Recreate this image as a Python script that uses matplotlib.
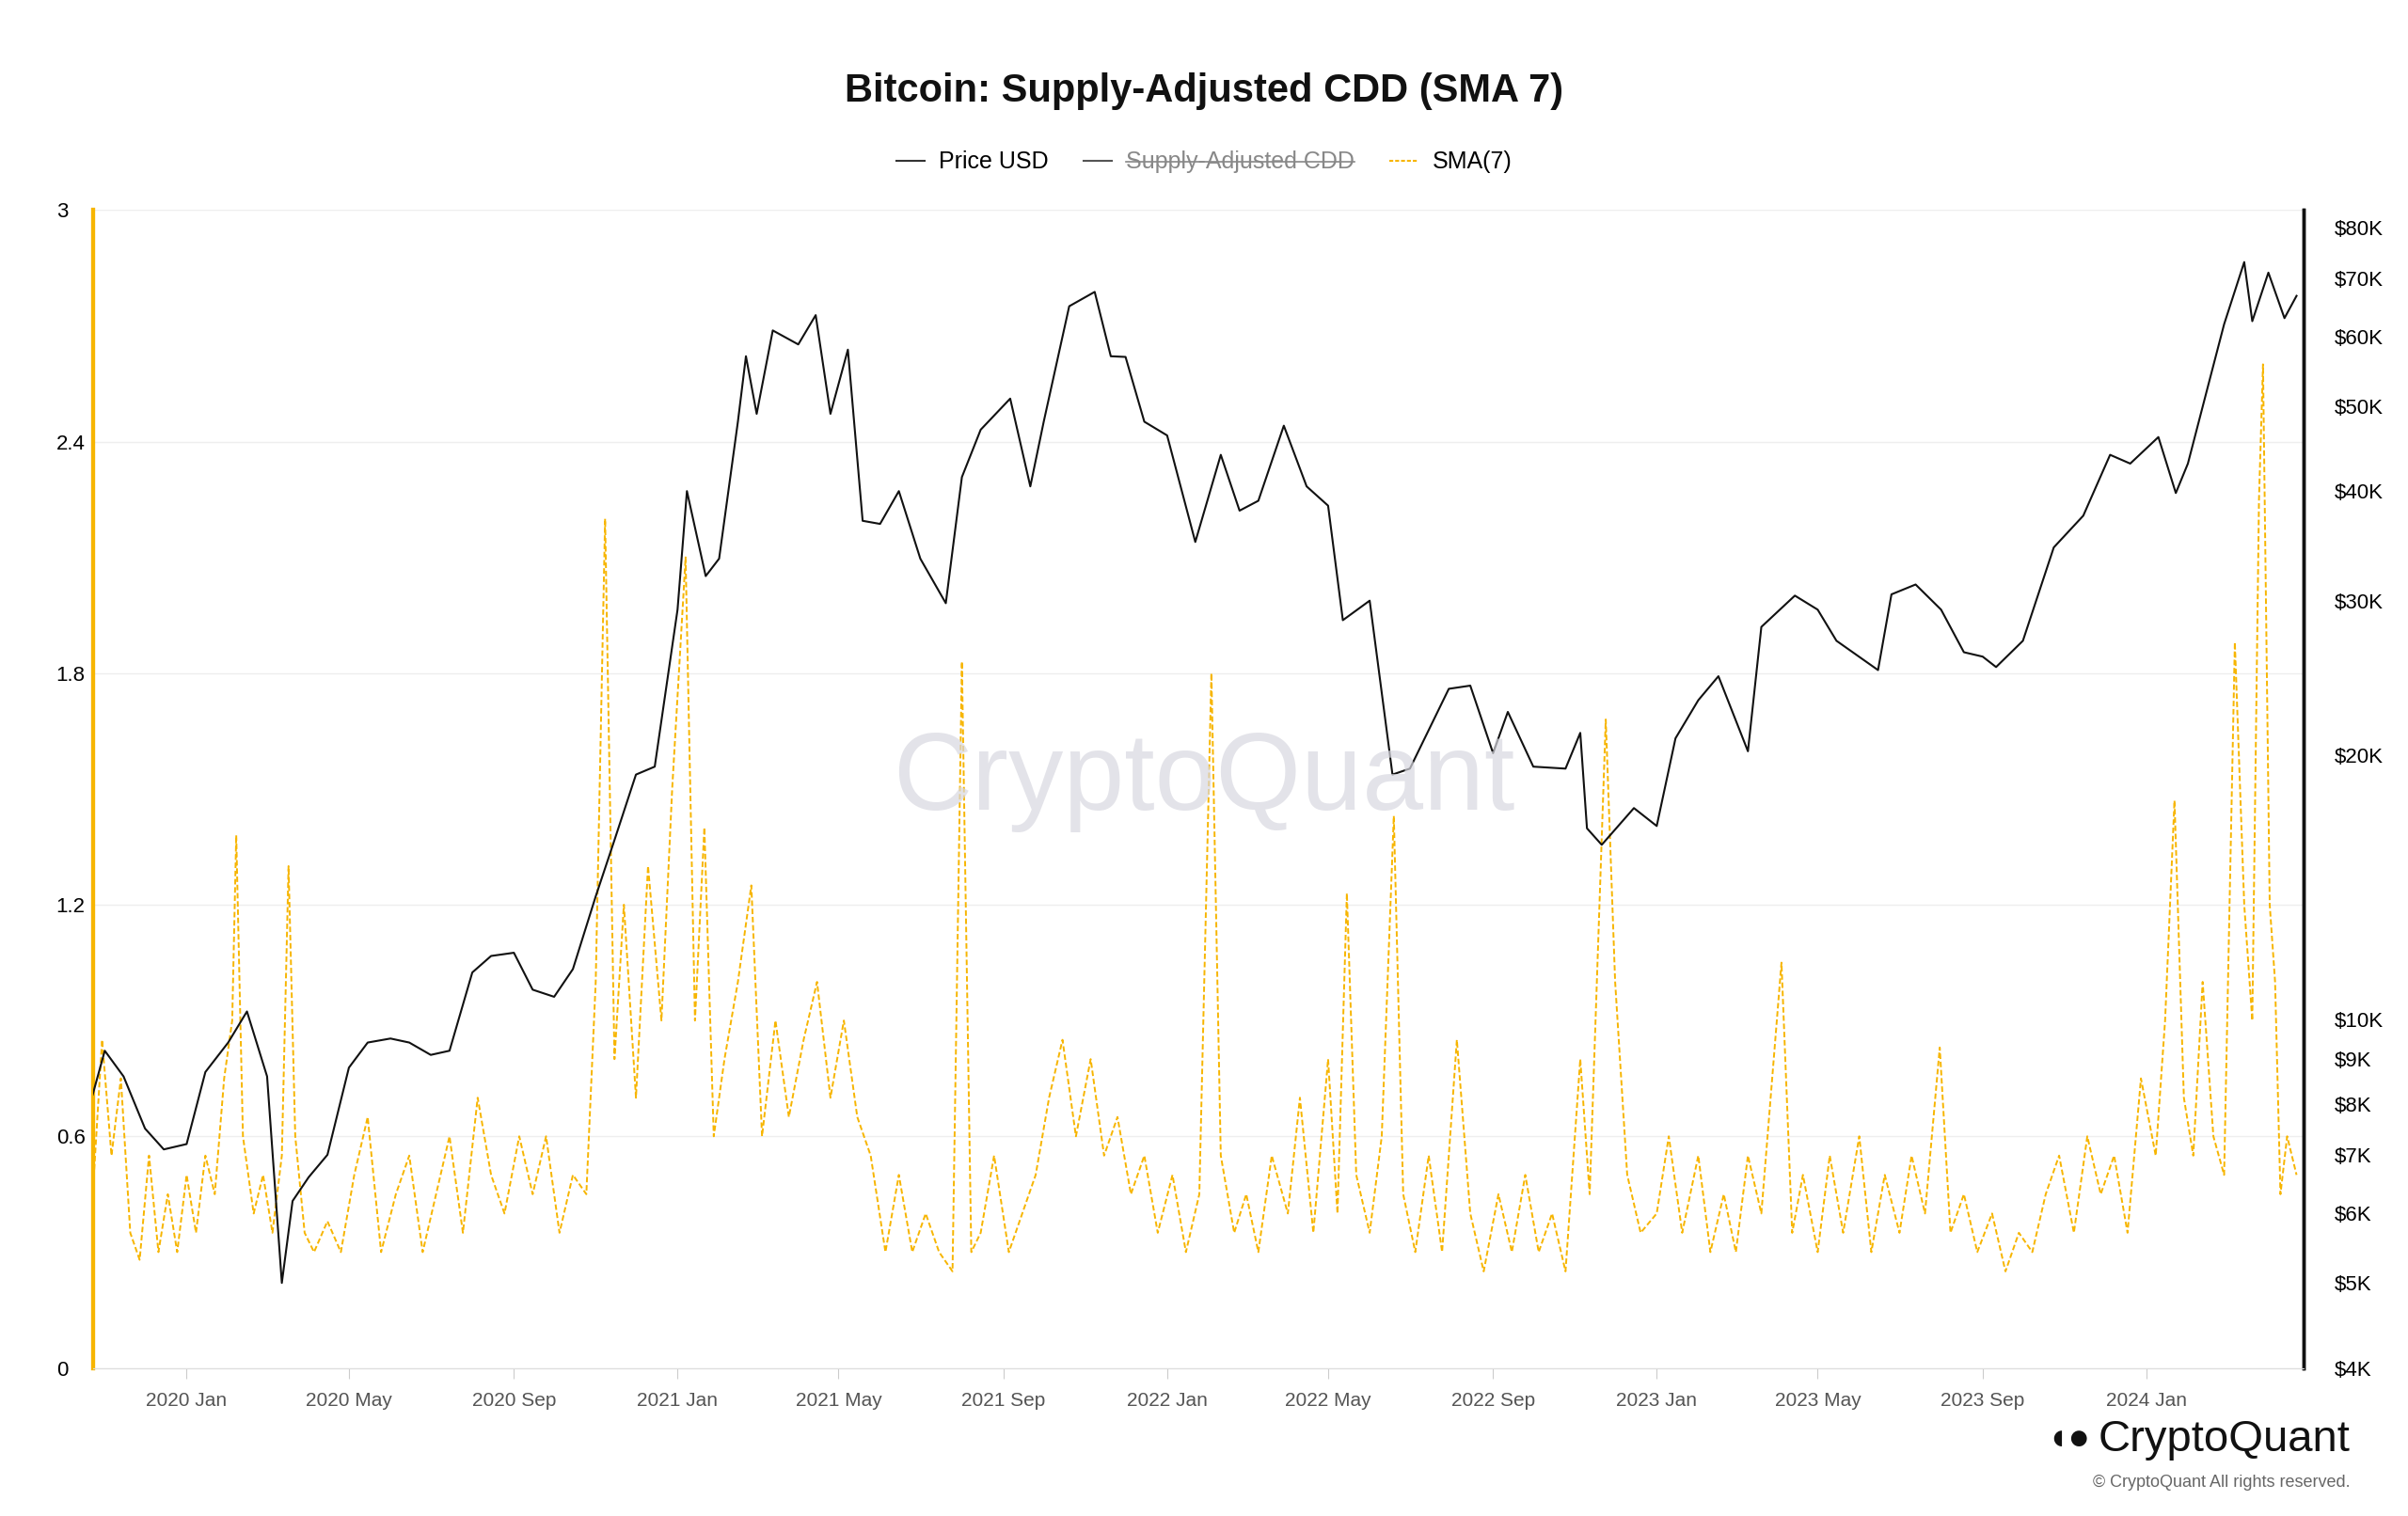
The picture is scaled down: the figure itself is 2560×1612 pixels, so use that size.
import matplotlib
matplotlib.use("Agg")
import matplotlib.pyplot as plt
import matplotlib.dates as mdates
import pandas as pd
from matplotlib.lines import Line2D

plt.rcParams["font.family"] = "Liberation Sans"

price_dates = ["2019-10-23","2019-11-01","2019-11-15","2019-12-01","2019-12-15","2020-01-01","2020-01-15","2020-02-01","2020-02-15",
"2020-03-01","2020-03-12","2020-03-20","2020-04-01","2020-04-15","2020-05-01","2020-05-15","2020-06-01","2020-06-15","2020-07-01",
"2020-07-15","2020-08-01","2020-08-15","2020-09-01","2020-09-15","2020-10-01","2020-10-15","2020-11-01","2020-11-15","2020-12-01",
"2020-12-15","2021-01-01","2021-01-08","2021-01-22","2021-02-01","2021-02-15","2021-02-21","2021-03-01","2021-03-13","2021-04-01",
"2021-04-14","2021-04-25","2021-05-08","2021-05-19","2021-06-01","2021-06-15","2021-07-01","2021-07-20","2021-08-01","2021-08-15",
"2021-09-06","2021-09-21","2021-10-01","2021-10-20","2021-11-08","2021-11-20","2021-12-01","2021-12-15","2022-01-01","2022-01-22",
"2022-02-10","2022-02-24","2022-03-10","2022-03-29","2022-04-15","2022-05-01","2022-05-12","2022-06-01","2022-06-18","2022-07-01",
"2022-07-30","2022-08-15","2022-09-01","2022-09-12","2022-10-01","2022-10-25","2022-11-05","2022-11-10","2022-11-21","2022-12-15",
"2023-01-01","2023-01-15","2023-02-01","2023-02-16","2023-03-10","2023-03-20","2023-04-14","2023-05-01","2023-05-15","2023-06-15",
"2023-06-25","2023-07-13","2023-08-01","2023-08-18","2023-09-01","2023-09-11","2023-10-01","2023-10-24","2023-11-15","2023-12-05",
"2023-12-20","2024-01-10","2024-01-23","2024-02-01","2024-02-15","2024-02-28","2024-03-14","2024-03-20","2024-04-01","2024-04-13","2024-04-22"]
price_vals = [8200,9200,8600,7500,7100,7200,8700,9400,10200,8600,5000,6200,6600,7000,8800,9400,9500,9400,9100,9200,11300,11800,11900,10800,10600,11400,13800,16000,19000,
19400,29300,40000,32000,33500,48000,57000,49000,61000,58800,63500,49000,58000,37000,36700,40000,33500,29800,41500,47000,51000,40500,48000,65000,67500,57000,56900,48000,
46300,35000,44000,38000,39000,47500,40500,38500,28500,30000,19000,19300,23800,24000,20100,22400,19400,19300,21200,16500,15800,17400,16600,20900,23100,24600,20200,28000,
30400,29300,27000,25000,30500,31300,29300,26200,25900,25200,27000,34500,37500,44000,43000,46100,39800,43000,52000,62000,73000,62500,71000,63000,66800]

sma_dates = ["2019-10-23","2019-10-30","2019-11-06","2019-11-13","2019-11-20","2019-11-27","2019-12-04","2019-12-11","2019-12-18","2019-12-25",
"2020-01-01","2020-01-08","2020-01-15","2020-01-22","2020-01-29","2020-02-04","2020-02-07","2020-02-12","2020-02-20","2020-02-27","2020-03-05",
"2020-03-12","2020-03-17","2020-03-22","2020-03-29","2020-04-05","2020-04-15","2020-04-25","2020-05-05","2020-05-15","2020-05-25","2020-06-05",
"2020-06-15","2020-06-25","2020-07-05","2020-07-15","2020-07-25","2020-08-05","2020-08-15","2020-08-25","2020-09-05","2020-09-15","2020-09-25",
"2020-10-05","2020-10-15","2020-10-25","2020-11-01","2020-11-08","2020-11-15","2020-11-22","2020-12-01","2020-12-10","2020-12-20","2020-12-28",
"2021-01-07","2021-01-14","2021-01-21","2021-01-28","2021-02-05","2021-02-15","2021-02-25","2021-03-05","2021-03-15","2021-03-25","2021-04-05",
"2021-04-15","2021-04-25","2021-05-05","2021-05-15","2021-05-25","2021-06-05","2021-06-15","2021-06-25","2021-07-05","2021-07-15","2021-07-25",
"2021-08-01","2021-08-08","2021-08-15","2021-08-25","2021-09-05","2021-09-15","2021-09-25","2021-10-05","2021-10-15","2021-10-25","2021-11-05",
"2021-11-15","2021-11-25","2021-12-05","2021-12-15","2021-12-25","2022-01-05","2022-01-15","2022-01-25","2022-02-03","2022-02-10","2022-02-20",
"2022-03-01","2022-03-10","2022-03-20","2022-04-01","2022-04-10","2022-04-20","2022-05-01","2022-05-08","2022-05-15","2022-05-22","2022-06-01",
"2022-06-10","2022-06-19","2022-06-26","2022-07-05","2022-07-15","2022-07-25","2022-08-05","2022-08-15","2022-08-25","2022-09-05","2022-09-15",
"2022-09-25","2022-10-05","2022-10-15","2022-10-25","2022-11-05","2022-11-12","2022-11-24","2022-12-01","2022-12-10","2022-12-20","2023-01-01",
"2023-01-10","2023-01-20","2023-02-01","2023-02-10","2023-02-20","2023-03-01","2023-03-10","2023-03-20","2023-04-04","2023-04-12","2023-04-20",
"2023-05-01","2023-05-10","2023-05-20","2023-06-01","2023-06-10","2023-06-20","2023-07-01","2023-07-10","2023-07-20","2023-07-31","2023-08-08",
"2023-08-18","2023-08-28","2023-09-08","2023-09-18","2023-09-28","2023-10-08","2023-10-18","2023-10-28","2023-11-08","2023-11-18","2023-11-28",
"2023-12-08","2023-12-18","2023-12-28","2024-01-08","2024-01-15","2024-01-22","2024-01-29","2024-02-05","2024-02-12","2024-02-20","2024-02-28",
"2024-03-07","2024-03-14","2024-03-20","2024-03-25","2024-03-28","2024-04-02","2024-04-06","2024-04-10","2024-04-15","2024-04-22"]
sma_vals = [0.45,0.85,0.55,0.75,0.35,0.28,0.55,0.3,0.45,0.3,
0.5,0.35,0.55,0.45,0.75,0.9,1.38,0.6,0.4,0.5,0.35,
0.55,1.3,0.6,0.35,0.3,0.38,0.3,0.5,0.65,0.3,0.45,
0.55,0.3,0.45,0.6,0.35,0.7,0.5,0.4,0.6,0.45,0.6,
0.35,0.5,0.45,1.0,2.2,0.8,1.2,0.7,1.3,0.9,1.5,
2.1,0.9,1.4,0.6,0.8,1.0,1.25,0.6,0.9,0.65,0.85,
1.0,0.7,0.9,0.65,0.55,0.3,0.5,0.3,0.4,0.3,0.25,
1.83,0.3,0.35,0.55,0.3,0.4,0.5,0.7,0.85,0.6,0.8,
0.55,0.65,0.45,0.55,0.35,0.5,0.3,0.45,1.8,0.55,0.35,
0.45,0.3,0.55,0.4,0.7,0.35,0.8,0.4,1.23,0.5,0.35,
0.6,1.43,0.45,0.3,0.55,0.3,0.85,0.4,0.25,0.45,0.3,
0.5,0.3,0.4,0.25,0.8,0.45,1.68,1.0,0.5,0.35,0.4,
0.6,0.35,0.55,0.3,0.45,0.3,0.55,0.4,1.05,0.35,0.5,
0.3,0.55,0.35,0.6,0.3,0.5,0.35,0.55,0.4,0.83,0.35,
0.45,0.3,0.4,0.25,0.35,0.3,0.45,0.55,0.35,0.6,0.45,
0.55,0.35,0.75,0.55,0.9,1.47,0.7,0.55,1.0,0.6,0.5,
1.88,1.2,0.9,2.25,2.6,1.2,1.0,0.45,0.6,0.5]

pd_ = pd.to_datetime(price_dates)
sd_ = pd.to_datetime(sma_dates)

fig = plt.figure(figsize=(25.6, 16.12), dpi=100)
ax = fig.add_axes([0.0385, 0.0977, 0.918, 0.7638])
ax2 = ax.twinx()

orange = "#F7B500"
ax.plot(sd_, sma_vals, color=orange, lw=1.4, ls=(0, (3, 1.5)), zorder=2)
ax2.plot(pd_, price_vals, color="#111111", lw=1.5, zorder=3)

ax.set_ylim(0, 3)
ax.set_yticks([0, 0.6, 1.2, 1.8, 2.4, 3])
ax.set_yticklabels(["0", "0.6", "1.2", "1.8", "2.4", "3"])
ax.yaxis.set_tick_params(length=0, labelsize=16)
ax.tick_params(axis="y", pad=28)
for lab in ax.get_yticklabels():
    lab.set_horizontalalignment("left")
ax.grid(axis="y", color="#eeeeee", lw=1)
ax.set_xlim(pd.Timestamp("2019-10-23"), pd.Timestamp("2024-04-27"))
ax.xaxis.set_major_locator(mdates.MonthLocator(bymonth=[1, 5, 9]))
ax.xaxis.set_major_formatter(mdates.DateFormatter("%Y %b"))
ax.tick_params(axis="x", labelsize=15, colors="#555555", length=8, color="#cccccc", pad=10)

ax2.set_yscale("log")
ax2.set_ylim(4000, 83700)
pt = [4000,5000,6000,7000,8000,9000,10000,20000,30000,40000,50000,60000,70000,80000]
ax2.set_yticks(pt)
ax2.set_yticklabels([f"${v//1000}K" for v in pt])
ax2.yaxis.set_minor_locator(matplotlib.ticker.NullLocator())
ax2.tick_params(axis="y", labelsize=16, length=0, pad=24)

for a in (ax, ax2):
    a.spines["top"].set_visible(False)
    a.spines["left"].set_color(orange)
    a.spines["left"].set_linewidth(3)
    a.spines["right"].set_color("#111111")
    a.spines["right"].set_linewidth(2.5)
    a.spines["bottom"].set_color("#dddddd")

fig.text(0.5, 0.94, "Bitcoin: Supply-Adjusted CDD (SMA 7)", ha="center", va="center",
         fontsize=30, fontweight="bold", color="#111111")

handles = [Line2D([], [], color="#333333", lw=1.5),
           Line2D([], [], color="#555555", lw=1.5),
           Line2D([], [], color=orange, lw=1.5, ls=(0, (2, 1)))]
leg = fig.legend(handles, ["Price USD", "Supply-Adjusted CDD", "SMA(7)"], loc="center",
                 bbox_to_anchor=(0.5, 0.893), ncol=3, frameon=False, fontsize=18,
                 handlelength=1.2, columnspacing=1.5, handletextpad=0.6)
txts = leg.get_texts()
txts[1].set_color("#888888")
fig.canvas.draw()
bb = txts[1].get_window_extent().transformed(fig.transFigure.inverted())
fig.add_artist(Line2D([bb.x0, bb.x1], [(bb.y0+bb.y1)/2]*2, color="#888888", lw=1.2, transform=fig.transFigure))

fig.text(0.5, 0.485, "CryptoQuant", ha="center", va="center", fontsize=84,
         color="#d8d8e0", alpha=0.7, zorder=0)
fig.text(0.976, 0.05, "CryptoQuant", ha="right", va="center", fontsize=34, color="#111111")
fig.text(0.868, 0.05, "\u25D6\u25CF", ha="right", va="center", fontsize=28, color="#111111")
fig.text(0.976, 0.022, "© CryptoQuant All rights reserved.", ha="right", va="center", fontsize=13, color="#666666")

fig.savefig("out.png", dpi=100)
